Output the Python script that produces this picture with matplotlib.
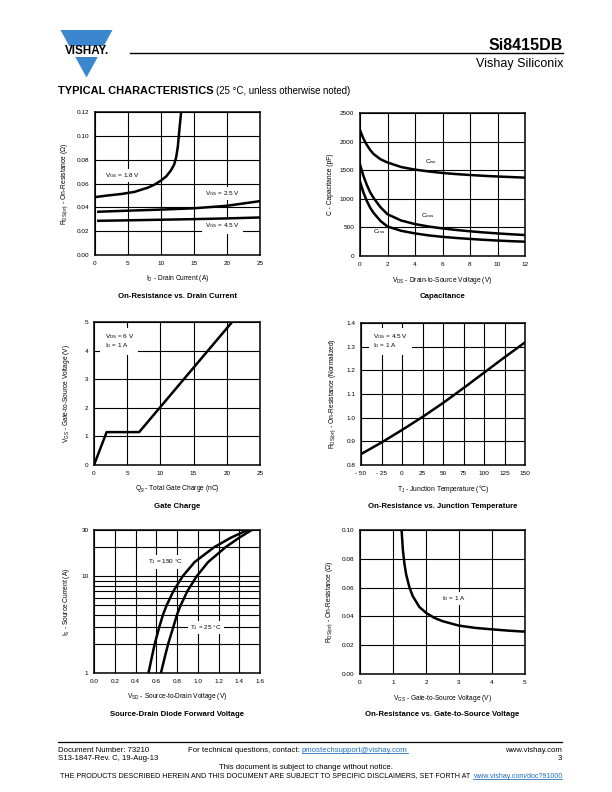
import numpy as np
import matplotlib
matplotlib.use('Agg')
import matplotlib.pyplot as plt
from matplotlib.patches import Polygon, Rectangle
from matplotlib.ticker import FixedLocator, NullFormatter

plt.rcParams['font.family'] = ['Liberation Sans', 'DejaVu Sans']
plt.rcParams['mathtext.fontset'] = 'custom'
plt.rcParams['mathtext.rm'] = 'Liberation Sans'
plt.rcParams['mathtext.it'] = 'Liberation Sans:italic'
plt.rcParams['mathtext.bf'] = 'Liberation Sans:bold'

# --- data ---
# On-resistance vs drain current
id_18 = [0.3, 2, 4, 6, 8, 9, 10, 10.8, 11.5, 12.0, 12.3, 12.55, 12.8, 13.05]
r_18 = [0.0488, 0.050, 0.0512, 0.053, 0.0565, 0.059, 0.0625, 0.066, 0.071, 0.076, 0.082, 0.091, 0.106, 0.12]
id_25 = [0.5, 5, 10, 15, 20, 25]
r_25 = [0.0363, 0.0372, 0.0381, 0.0392, 0.0413, 0.0452]
id_45 = [0.5, 5, 10, 15, 20, 25]
r_45 = [0.0287, 0.0291, 0.0296, 0.0301, 0.0307, 0.0315]

# Capacitance
vds = [0, 0.25, 0.5, 0.75, 1, 1.5, 2, 3, 4, 5, 6, 7, 8, 9, 10, 11, 12]
ciss = [2200, 2050, 1940, 1850, 1780, 1690, 1635, 1555, 1510, 1478, 1452, 1432, 1416, 1402, 1390, 1380, 1370]
coss = [1600, 1400, 1240, 1110, 1010, 850, 730, 620, 558, 515, 482, 455, 432, 412, 395, 380, 366]
crss = [1300, 1110, 960, 840, 750, 610, 515, 440, 395, 360, 335, 315, 298, 283, 270, 259, 250]

# Gate charge
qg = [0, 1.9, 6.8, 20.8]
vgs_qg = [0, 1.15, 1.15, 5.0]

# On-resistance vs junction temperature
tj = [-50, -25, 0, 25, 50, 75, 100, 125, 150]
r_norm = [0.846, 0.895, 0.948, 1.003, 1.062, 1.125, 1.19, 1.255, 1.318]

# Source-drain diode forward voltage
is_150 = [1, 1.5, 2, 3, 4, 5, 7, 10, 14, 20, 25, 30]
vsd_150 = [0.525, 0.56, 0.585, 0.63, 0.665, 0.70, 0.765, 0.855, 0.97, 1.16, 1.32, 1.48]
is_25 = [1, 1.5, 2, 3, 4, 5, 7, 10, 14, 20, 25, 30]
vsd_25 = [0.645, 0.685, 0.715, 0.765, 0.80, 0.835, 0.90, 0.99, 1.10, 1.27, 1.40, 1.52]

# On-resistance vs gate-to-source voltage
vgs = [1.26, 1.3, 1.35, 1.4, 1.5, 1.6, 1.8, 2.0, 2.25, 2.5, 3.0, 3.5, 4.0, 4.5, 5.0]
r_vgs = [0.10, 0.086, 0.076, 0.069, 0.060, 0.054, 0.0465, 0.0425, 0.039, 0.0367, 0.0336, 0.0320, 0.0310, 0.0301, 0.0294]

W, H = 612, 792
fig = plt.figure(figsize=(W / 100, H / 100), dpi=100)
fig.patch.set_facecolor('white')

page = fig.add_axes([0, 0, 1, 1])
page.set_xlim(0, W)
page.set_ylim(H, 0)
page.axis('off')

LINK = '#1f6fbf'
BLUE = '#3a87cf'
DEG = '\u00b0'

# --- header ---
page.add_patch(Polygon([[60.5, 30], [112.5, 30], [86.5, 77.5]], closed=True, fc=BLUE, ec='none'))
page.add_patch(Rectangle((57, 45.5), 60, 11, fc='white', ec='none'))
page.text(87, 51.2, 'VISHAY.', ha='center', va='center', fontsize=8.4, fontweight='bold')
page.plot([130, 563], [53, 53], color='black', lw=1.0)
page.text(563, 50.5, 'Si8415DB', ha='right', va='baseline', fontsize=11.5, fontweight='bold')
page.text(563, 67, 'Vishay Siliconix', ha='right', va='baseline', fontsize=9)

r = fig.canvas.get_renderer()
t = page.text(58, 93.5, 'TYPICAL CHARACTERISTICS', ha='left', va='baseline', fontsize=7.9, fontweight='bold')
bb = t.get_window_extent(renderer=r)
page.text(bb.x1 + 3, 93.5, '(25 ' + DEG + 'C, unless otherwise noted)', ha='left', va='baseline', fontsize=6.9)

# --- footer ---
page.plot([58, 562], [742, 742], color='black', lw=0.9)
fs = 5.6
page.text(58, 751.5, 'Document Number: 73210', fontsize=fs, va='baseline')
page.text(58, 760.5, 'S13-1847-Rev. C, 19-Aug-13', fontsize=fs, va='baseline')
t = page.text(188, 751.5, 'For technical questions, contact: ', fontsize=fs, va='baseline')
bb = t.get_window_extent(renderer=r)
lk = page.text(bb.x1, 751.5, 'pmostechsupport@vishay.com', fontsize=fs, va='baseline', color=LINK)
lb = lk.get_window_extent(renderer=r)
page.plot([lb.x0, lb.x1], [753, 753], color=LINK, lw=0.6)
page.text(562, 751.5, 'www.vishay.com', fontsize=fs, va='baseline', ha='right')
page.text(562, 760.5, '3', fontsize=fs, va='baseline', ha='right')
page.text(306, 769, 'This document is subject to change without notice.', fontsize=fs, va='baseline', ha='center')
fs2 = 5.15
lk = page.text(562, 777.5, 'www.vishay.com/doc?91000', fontsize=fs2, va='baseline', ha='right', color=LINK)
lb = lk.get_window_extent(renderer=r)
page.plot([lb.x0, lb.x1], [779, 779], color=LINK, lw=0.6)
page.text(lb.x0 - 2, 777.5, 'THE PRODUCTS DESCRIBED HEREIN AND THIS DOCUMENT ARE SUBJECT TO SPECIFIC DISCLAIMERS, SET FORTH AT',
          fontsize=fs2, va='baseline', ha='right')

TICK = 4.6
LAB = 4.8
BOX = dict(fc='white', ec='none', pad=1.5)


def make_ax(box, xlim, ylim, xticks, xtl, yticks, ytl, xlabel, ylabel, title, ylab_x, log=False):
    x0, y0, x1, y1 = box
    ax = fig.add_axes([x0 / W, 1 - y1 / H, (x1 - x0) / W, (y1 - y0) / H])
    if log:
        ax.set_yscale('log')
    ax.set_xlim(*xlim)
    ax.set_ylim(*ylim)
    ax.set_xticks(xticks)
    ax.set_xticklabels(xtl)
    ax.set_yticks(yticks)
    ax.set_yticklabels(ytl)
    ax.tick_params(which='both', length=0, labelsize=TICK, pad=4)
    ax.grid(True, which='both', color='black', lw=0.8)
    ax.set_axisbelow(True)
    for s in ax.spines.values():
        s.set_linewidth(1.1)
        s.set_zorder(5)
    cx = (x0 + x1) / 2
    page.text(cx, y1 + 24, xlabel, ha='center', va='center', fontsize=LAB)
    page.text(ylab_x, (y0 + y1) / 2, ylabel, ha='center', va='center', rotation=90, fontsize=LAB)
    page.text(cx, y1 + 41, title, ha='center', va='center', fontsize=5.6, fontweight='bold')
    return ax


LW = 1.8
ZC = 4  # curves drawn above label backgrounds
ohm = '\u03a9'

# 1. On-resistance vs drain current
ax = make_ax((95, 112, 260, 255), (0, 25), (0, 0.12),
             [0, 5, 10, 15, 20, 25], ['0', '5', '10', '15', '20', '25'],
             np.arange(0, 0.121, 0.02), ['0.00', '0.02', '0.04', '0.06', '0.08', '0.10', '0.12'],
             r'I$_{\rm D}$ - Drain Current (A)', r'R$_{\rm DS(on)}$ - On-Resistance (' + ohm + ')',
             'On-Resistance vs. Drain Current', 65)
ax.plot(id_18, r_18, color='black', lw=LW, zorder=ZC)
ax.plot(id_25, r_25, color='black', lw=LW, zorder=ZC)
ax.plot(id_45, r_45, color='black', lw=LW, zorder=ZC)
ax.text(1.5, 0.067, r'V$_{\rm GS}$ = 1.8 V', fontsize=TICK, va='center', bbox=BOX)
ax.text(16.7, 0.0516, r'V$_{\rm GS}$ = 2.5 V', fontsize=TICK, va='center', bbox=BOX)
ax.text(16.7, 0.0243, r'V$_{\rm GS}$ = 4.5 V', fontsize=TICK, va='center', bbox=dict(fc='white', ec='none', pad=2.2))

# 2. Capacitance
ax = make_ax((360, 113, 525, 256), (0, 12), (0, 2500),
             [0, 2, 4, 6, 8, 10, 12], ['0', '2', '4', '6', '8', '10', '12'],
             [0, 500, 1000, 1500, 2000, 2500], ['0', '500', '1000', '1500', '2000', '2500'],
             r'V$_{\rm DS}$ - Drain-to-Source Voltage (V)', 'C - Capacitance (pF)',
             'Capacitance', 331)
ax.plot(vds, ciss, color='black', lw=LW, zorder=ZC)
ax.plot(vds, coss, color='black', lw=LW, zorder=ZC)
ax.plot(vds, crss, color='black', lw=LW, zorder=ZC)
ax.text(4.73, 1657, r'C$_{\rm iss}$', fontsize=TICK, va='center')
ax.text(4.44, 715, r'C$_{\rm oss}$', fontsize=TICK, va='center')
ax.text(0.92, 424, r'C$_{\rm rss}$', fontsize=TICK, va='center')

# 3. Gate charge
ax = make_ax((94, 322, 260, 465), (0, 25), (0, 5),
             [0, 5, 10, 15, 20, 25], ['0', '5', '10', '15', '20', '25'],
             [0, 1, 2, 3, 4, 5], ['0', '1', '2', '3', '4', '5'],
             r'Q$_{\rm g}$ - Total Gate Charge (nC)', r'V$_{\rm GS}$ - Gate-to-Source Voltage (V)',
             'Gate Charge', 67)
ax.plot(qg, vgs_qg, color='black', lw=LW, zorder=ZC)
ax.text(1.6, 4.33, 'V$_{\\rm DS}$ = 6 V\nI$_{\\rm D}$ = 1 A', fontsize=TICK, va='center', linespacing=1.1,
        bbox=dict(fc='white', ec='none', pad=3))

# 4. On-resistance vs junction temperature
ax = make_ax((361, 323, 525, 465), (-50, 150), (0.8, 1.4),
             [-50, -25, 0, 25, 50, 75, 100, 125, 150],
             ['- 50', '- 25', '0', '25', '50', '75', '100', '125', '150'],
             [0.8, 0.9, 1.0, 1.1, 1.2, 1.3, 1.4], ['0.8', '0.9', '1.0', '1.1', '1.2', '1.3', '1.4'],
             r'T$_{\rm J}$ - Junction Temperature (' + DEG + 'C)',
             r'R$_{\rm DS(on)}$ - On-Resistance (Normalized)',
             'On-Resistance vs. Junction Temperature', 333)
ax.plot(tj, r_norm, color='black', lw=LW, zorder=ZC)
ax.text(-35, 1.323, 'V$_{\\rm GS}$ = 4.5 V\nI$_{\\rm D}$ = 1 A', fontsize=TICK, va='center', linespacing=1.1,
        bbox=dict(fc='white', ec='none', pad=3))

# 5. Source-drain diode forward voltage
ax = make_ax((94, 530, 260, 673), (0, 1.6), (1, 30),
             [0, 0.2, 0.4, 0.6, 0.8, 1.0, 1.2, 1.4, 1.6],
             ['0.0', '0.2', '0.4', '0.6', '0.8', '1.0', '1.2', '1.4', '1.6'],
             [1, 10, 30], ['1', '10', '30'],
             r'V$_{\rm SD}$ - Source-to-Drain Voltage (V)', r'I$_{\rm S}$ - Source Current (A)',
             'Source-Drain Diode Forward Voltage', 67, log=True)
ax.yaxis.set_minor_locator(FixedLocator([2, 3, 4, 5, 6, 7, 8, 9, 20]))
ax.yaxis.set_minor_formatter(NullFormatter())
ax.tick_params(which='both', length=0)
ax.plot(vsd_150, is_150, color='black', lw=LW, zorder=ZC)
ax.plot(vsd_25, is_25, color='black', lw=LW, zorder=ZC)
ax.text(0.52, 14, r'T$_{\rm J}$ = 150 ' + DEG + 'C', fontsize=TICK, va='center', bbox=BOX)
ax.text(0.93, 2.94, r'T$_{\rm J}$ = 25 ' + DEG + 'C', fontsize=TICK, va='center', bbox=BOX)

# 6. On-resistance vs gate-to-source voltage
ax = make_ax((360, 530, 525, 674), (0, 5), (0, 0.10),
             [0, 1, 2, 3, 4, 5], ['0', '1', '2', '3', '4', '5'],
             [0, 0.02, 0.04, 0.06, 0.08, 0.10], ['0.00', '0.02', '0.04', '0.06', '0.08', '0.10'],
             r'V$_{\rm GS}$ - Gate-to-Source Voltage (V)', r'R$_{\rm DS(on)}$ - On-Resistance (' + ohm + ')',
             'On-Resistance vs. Gate-to-Source Voltage', 330)
ax.plot(vgs, r_vgs, color='black', lw=LW, zorder=ZC)
ax.text(2.5, 0.0525, r'I$_{\rm D}$ = 1 A', fontsize=TICK, va='center', bbox=BOX)

fig.savefig('out.png', dpi=100)
